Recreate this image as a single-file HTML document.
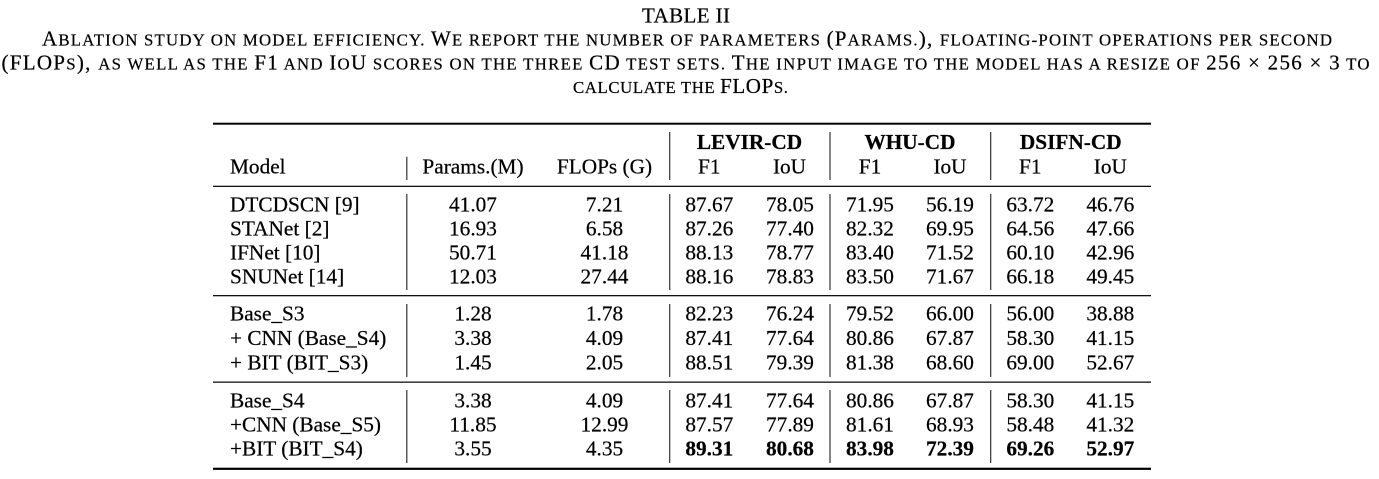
<!DOCTYPE html>
<html>
<head>
<meta charset="utf-8">
<style>
html,body{margin:0;padding:0;background:#fff;}
svg{display:block;}
text{font-family:"Liberation Serif","DejaVu Serif",serif;fill:#000;stroke:#000;stroke-width:0.22px;}
.cap{font-size:21px;}
.sc{font-size:16.8px;}
.t{font-size:21.3px;}
.b{font-weight:bold;}
.m{text-anchor:middle;}
</style>
</head>
<body>
<svg width="1379" height="479" viewBox="0 0 1379 479" xmlns="http://www.w3.org/2000/svg">
<rect x="0" y="0" width="1379" height="479" fill="#fff"/>
<!-- Caption -->
<text class="cap" x="642" y="22.5" textLength="88" lengthAdjust="spacing">TABLE II</text>
<text class="cap" x="42" y="45.5" textLength="1290" lengthAdjust="spacing">A<tspan class="sc">BLATION STUDY ON MODEL EFFICIENCY. </tspan>W<tspan class="sc">E REPORT THE NUMBER OF PARAMETERS </tspan>(P<tspan class="sc">ARAMS.</tspan>), <tspan class="sc">FLOATING-POINT OPERATIONS PER SECOND</tspan></text>
<text class="cap" x="1.5" y="69.5" textLength="1368" lengthAdjust="spacing">(FLOP<tspan class="sc">S</tspan>), <tspan class="sc">AS WELL AS THE </tspan>F1<tspan class="sc"> AND </tspan>I<tspan class="sc">O</tspan>U<tspan class="sc"> SCORES ON THE THREE </tspan>CD<tspan class="sc"> TEST SETS. </tspan>T<tspan class="sc">HE INPUT IMAGE TO THE MODEL HAS A RESIZE OF </tspan>256 × 256 × 3<tspan class="sc"> TO</tspan></text>
<text class="cap" x="573" y="93" textLength="215" lengthAdjust="spacing"><tspan class="sc">CALCULATE THE </tspan>FLOP<tspan class="sc">S.</tspan></text>

<!-- Rules -->
<rect x="213" y="122.7" width="938" height="2" fill="#000"/>
<rect x="213" y="185.7" width="938" height="1.3" fill="#111"/>
<rect x="213" y="295" width="938" height="1.3" fill="#111"/>
<rect x="213" y="381.5" width="938" height="1.3" fill="#111"/>
<rect x="213" y="467.7" width="938" height="2.2" fill="#000"/>

<!-- Vertical bars -->
<g fill="#333">
<rect x="406.2" y="156.7" width="1.2" height="23.3"/>
<rect x="669.1" y="132" width="1.2" height="48"/>
<rect x="829.4" y="132" width="1.2" height="48"/>
<rect x="990.1" y="132" width="1.2" height="48"/>

<rect x="406.2" y="194" width="1.2" height="96"/>
<rect x="669.1" y="194" width="1.2" height="96"/>
<rect x="829.4" y="194" width="1.2" height="96"/>
<rect x="990.1" y="194" width="1.2" height="96"/>

<rect x="406.2" y="304" width="1.2" height="73"/>
<rect x="669.1" y="304" width="1.2" height="73"/>
<rect x="829.4" y="304" width="1.2" height="73"/>
<rect x="990.1" y="304" width="1.2" height="73"/>

<rect x="406.2" y="390" width="1.2" height="73"/>
<rect x="669.1" y="390" width="1.2" height="73"/>
<rect x="829.4" y="390" width="1.2" height="73"/>
<rect x="990.1" y="390" width="1.2" height="73"/>
</g>

<!-- Header -->
<text class="t b m" x="749.5" y="149">LEVIR-CD</text>
<text class="t b m" x="910" y="149">WHU-CD</text>
<text class="t b m" x="1070.8" y="149">DSIFN-CD</text>
<text class="t" x="230" y="173.3">Model</text>
<text class="t m" x="473" y="173.3">Params.(M)</text>
<text class="t m" x="604.5" y="173.3">FLOPs (G)</text>
<text class="t m" x="709.3" y="173.3">F1</text>
<text class="t m" x="789.5" y="173.3">IoU</text>
<text class="t m" x="870" y="173.3">F1</text>
<text class="t m" x="950" y="173.3">IoU</text>
<text class="t m" x="1030.3" y="173.3">F1</text>
<text class="t m" x="1110.3" y="173.3">IoU</text>

<!-- Body: names -->
<text class="t" x="230" y="211.7">DTCDSCN [9]</text>
<text class="t" x="230" y="235.7">STANet [2]</text>
<text class="t" x="230" y="259.5">IFNet [10]</text>
<text class="t" x="230" y="283.5">SNUNet [14]</text>
<text class="t" x="230" y="320.7">Base_S3</text>
<text class="t" x="230" y="345">+ CNN (Base_S4)</text>
<text class="t" x="230" y="369.3">+ BIT (BIT_S3)</text>
<text class="t" x="230" y="407.3">Base_S4</text>
<text class="t" x="230" y="431.5">+CNN (Base_S5)</text>
<text class="t" x="230" y="455.5">+BIT (BIT_S4)</text>

<!-- Row 1 -->
<text class="t m" x="473" y="211.7">41.07</text>
<text class="t m" x="604.5" y="211.7">7.21</text>
<text class="t m" x="709.3" y="211.7">87.67</text>
<text class="t m" x="790" y="211.7">78.05</text>
<text class="t m" x="870" y="211.7">71.95</text>
<text class="t m" x="950" y="211.7">56.19</text>
<text class="t m" x="1030.3" y="211.7">63.72</text>
<text class="t m" x="1110.3" y="211.7">46.76</text>
<!-- Row 2 -->
<text class="t m" x="473" y="235.7">16.93</text>
<text class="t m" x="604.5" y="235.7">6.58</text>
<text class="t m" x="709.3" y="235.7">87.26</text>
<text class="t m" x="790" y="235.7">77.40</text>
<text class="t m" x="870" y="235.7">82.32</text>
<text class="t m" x="950" y="235.7">69.95</text>
<text class="t m" x="1030.3" y="235.7">64.56</text>
<text class="t m" x="1110.3" y="235.7">47.66</text>
<!-- Row 3 -->
<text class="t m" x="473" y="259.5">50.71</text>
<text class="t m" x="604.5" y="259.5">41.18</text>
<text class="t m" x="709.3" y="259.5">88.13</text>
<text class="t m" x="790" y="259.5">78.77</text>
<text class="t m" x="870" y="259.5">83.40</text>
<text class="t m" x="950" y="259.5">71.52</text>
<text class="t m" x="1030.3" y="259.5">60.10</text>
<text class="t m" x="1110.3" y="259.5">42.96</text>
<!-- Row 4 -->
<text class="t m" x="473" y="283.5">12.03</text>
<text class="t m" x="604.5" y="283.5">27.44</text>
<text class="t m" x="709.3" y="283.5">88.16</text>
<text class="t m" x="790" y="283.5">78.83</text>
<text class="t m" x="870" y="283.5">83.50</text>
<text class="t m" x="950" y="283.5">71.67</text>
<text class="t m" x="1030.3" y="283.5">66.18</text>
<text class="t m" x="1110.3" y="283.5">49.45</text>
<!-- Row 5 -->
<text class="t m" x="473" y="320.7">1.28</text>
<text class="t m" x="604.5" y="320.7">1.78</text>
<text class="t m" x="709.3" y="320.7">82.23</text>
<text class="t m" x="790" y="320.7">76.24</text>
<text class="t m" x="870" y="320.7">79.52</text>
<text class="t m" x="950" y="320.7">66.00</text>
<text class="t m" x="1030.3" y="320.7">56.00</text>
<text class="t m" x="1110.3" y="320.7">38.88</text>
<!-- Row 6 -->
<text class="t m" x="473" y="345">3.38</text>
<text class="t m" x="604.5" y="345">4.09</text>
<text class="t m" x="709.3" y="345">87.41</text>
<text class="t m" x="790" y="345">77.64</text>
<text class="t m" x="870" y="345">80.86</text>
<text class="t m" x="950" y="345">67.87</text>
<text class="t m" x="1030.3" y="345">58.30</text>
<text class="t m" x="1110.3" y="345">41.15</text>
<!-- Row 7 -->
<text class="t m" x="473" y="369.3">1.45</text>
<text class="t m" x="604.5" y="369.3">2.05</text>
<text class="t m" x="709.3" y="369.3">88.51</text>
<text class="t m" x="790" y="369.3">79.39</text>
<text class="t m" x="870" y="369.3">81.38</text>
<text class="t m" x="950" y="369.3">68.60</text>
<text class="t m" x="1030.3" y="369.3">69.00</text>
<text class="t m" x="1110.3" y="369.3">52.67</text>
<!-- Row 8 -->
<text class="t m" x="473" y="407.3">3.38</text>
<text class="t m" x="604.5" y="407.3">4.09</text>
<text class="t m" x="709.3" y="407.3">87.41</text>
<text class="t m" x="790" y="407.3">77.64</text>
<text class="t m" x="870" y="407.3">80.86</text>
<text class="t m" x="950" y="407.3">67.87</text>
<text class="t m" x="1030.3" y="407.3">58.30</text>
<text class="t m" x="1110.3" y="407.3">41.15</text>
<!-- Row 9 -->
<text class="t m" x="473" y="431.5">11.85</text>
<text class="t m" x="604.5" y="431.5">12.99</text>
<text class="t m" x="709.3" y="431.5">87.57</text>
<text class="t m" x="790" y="431.5">77.89</text>
<text class="t m" x="870" y="431.5">81.61</text>
<text class="t m" x="950" y="431.5">68.93</text>
<text class="t m" x="1030.3" y="431.5">58.48</text>
<text class="t m" x="1110.3" y="431.5">41.32</text>
<!-- Row 10 -->
<text class="t m" x="473" y="455.5">3.55</text>
<text class="t m" x="604.5" y="455.5">4.35</text>
<text class="t b m" x="709.3" y="455.5">89.31</text>
<text class="t b m" x="790" y="455.5">80.68</text>
<text class="t b m" x="870" y="455.5">83.98</text>
<text class="t b m" x="950" y="455.5">72.39</text>
<text class="t b m" x="1030.3" y="455.5">69.26</text>
<text class="t b m" x="1110.3" y="455.5">52.97</text>
</svg>
</body>
</html>
